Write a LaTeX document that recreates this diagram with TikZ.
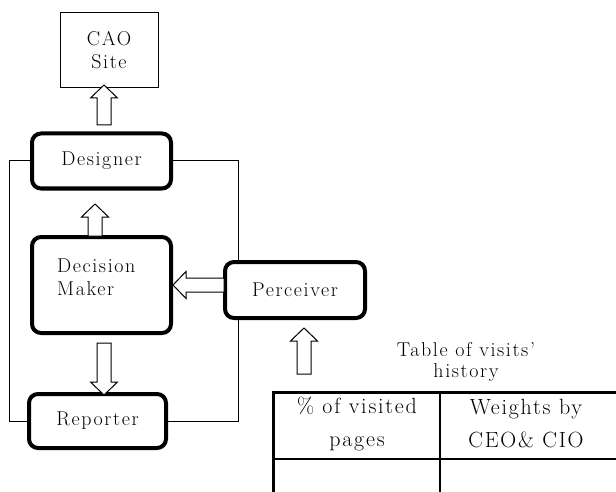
\documentclass[tikz,border=0pt]{standalone}
\usepackage{fontspec}
\setmainfont{Latin Modern Roman}[LetterSpace=8]
\usepackage{tikz}
\newcommand{\blockarr}[3]{% base, rotation, length
\draw[hollow,shift={(#1)},rotate=#2] (0,-7) -- (#3-13,-7) -- (#3-13,-13.5) -- (#3,0) -- (#3-13,13.5) -- (#3-13,7) -- (0,7) -- cycle;}
\begin{document}
\begin{tikzpicture}[x=1pt,y=-1pt,
  every node/.style={font=\fontsize{20}{23}\selectfont},
  agent/.style={draw,line width=4pt,rounded corners=9pt,fill=white,inner sep=0pt},
  site/.style={draw,line width=1pt,inner sep=0pt},
  loopline/.style={line width=1pt},
  hollow/.style={draw,line width=1pt,fill=white},
  tab/.style={line width=1.3pt},
  tabedge/.style={line width=3pt},
  head/.style={align=center,font=\fontsize{22}{33}\selectfont}]
\fill[white] (0,0) rectangle (616,492);
\useasboundingbox (0,0) rectangle (616,492);
\node[site,minimum width=98,minimum height=75,align=center] (cao) at (109,50.5) {CAO\\Site};
\node[agent,minimum width=139,minimum height=55] (desg) at (101.5,161) {Designer};
\node[agent,minimum width=139,minimum height=96] (dm) at (101.5,285) {};
\node[align=left,anchor=west,inner sep=0pt] (dmlab) at (57,277) {Decision\\Maker};
\node[agent,minimum width=137,minimum height=54] (rep) at (97.5,421) {Reporter};
\draw[loopline] (desg.west) -- ++(-21,0) |- (rep.west);
\draw[loopline] (desg.east) -- ++(65,0) |- (rep.east);
\node[agent,minimum width=140,minimum height=56] (per) at (295,290) {Perceiver};
\blockarr{104,125}{90}{40}
\blockarr{95,236}{90}{32}
\blockarr{224,285}{180}{51}
\blockarr{104,343}{-90}{52}
\blockarr{304,374}{90}{46}
\node[align=center,font=\fontsize{20}{21}\selectfont] (cap) at (466,362) {Table of visits'\\history};
\coordinate (tl) at (273,392);
\coordinate (tm) at (440,392);
\draw[tab] (tm) -- (440,492);
\draw[tab] (273,459) -- (616,459);
\draw[tabedge] (616,392) -- (tl) -- (273,492);
\node[head] (colA) at (357,424) {\% of visited\\pages};
\node[head] (colB) at (526,424) {Weights by\\CEO\& CIO};
\end{tikzpicture}
\end{document}
